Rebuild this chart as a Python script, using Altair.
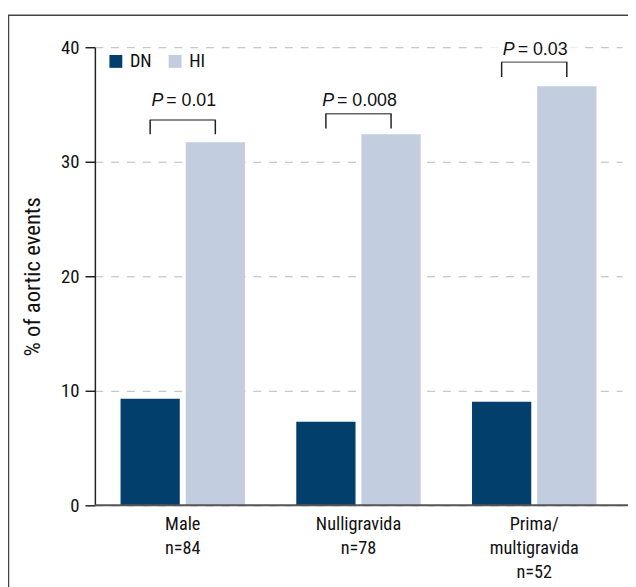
import altair as alt
import pandas as pd

categories = ["Male", "Nulligravida", "Prima/multigravida"]
label_lines = [["Male", "n=84"], ["Nulligravida", "n=78"], ["Prima/", "multigravida", "n=52"]]
groups = ["DN", "HI"]
dn_values = [9.3, 7.3, 9.05]
hi_values = [31.7, 32.4, 36.6]
p_values = ["0.01", "0.008", "0.03"]
p_text_y = [34.9, 34.9, 39.3]
bracket_top = [33.65, 34.2, 38.7]
bracket_bottom = [32.4, 32.9, 37.4]

DN_COLOR = "#033f6d"
HI_COLOR = "#c3cde0"
NARROW = "Liberation Sans Narrow, Nimbus Sans Narrow, Roboto Condensed, Roboto, sans-serif"
REG = "Liberation Sans"

W, H = 540, 464

rows = []
for c, d, h in zip(categories, dn_values, hi_values):
    rows.append({"category": c, "group": "DN", "value": d})
    rows.append({"category": c, "group": "HI", "value": h})
bars_df = pd.DataFrame(rows)

brk_rows = []
for c, t, b in zip(categories, bracket_top, bracket_bottom):
    for g in groups:
        brk_rows.append({"category": c, "group": g, "top": t, "bottom": b})
brk_df = pd.DataFrame(brk_rows)
top_df = pd.DataFrame({"category": categories, "top": bracket_top})

parts = []
for c, lines in zip(categories, label_lines):
    arr = "[" + ",".join("'" + l + "'" for l in lines) + "]"
    parts.append((c, arr))
label_expr = ""
for c, arr in parts[:-1]:
    label_expr += f"datum.value == '{c}' ? {arr} : "
label_expr += parts[-1][1]

x_scale = alt.Scale(domain=categories, paddingInner=0, paddingOuter=0, range=[0, 534])
off_scale = alt.Scale(domain=groups, paddingInner=0.0909, paddingOuter=0.394)

x_enc = alt.X(
    "category:N", sort=categories, scale=x_scale,
    axis=alt.Axis(
        title=None, labelAngle=0, ticks=False, domain=False,
        labelExpr=label_expr, labelFont=NARROW, labelFontSize=18.5,
        labelColor="#111", labelPadding=10, labelLineHeight=24,
    ),
)
y_scale = alt.Scale(domain=[0, 40], nice=False)

bars = alt.Chart(bars_df).mark_bar().encode(
    x=x_enc,
    xOffset=alt.XOffset("group:N", sort=groups, scale=off_scale),
    y=alt.Y(
        "value:Q", scale=y_scale,
        axis=alt.Axis(
            values=[0, 10, 20, 30, 40], grid=True, gridDash=[8, 8], gridColor="#b8b8b8",
            gridWidth=1, domainColor="#222", domainWidth=1.5, tickColor="#222",
            tickSize=10, tickWidth=1.5, labelFont=NARROW, labelFontSize=19,
            labelColor="#111", labelPadding=6, title="% of aortic events",
            titleFont=NARROW, titleFontSize=23, titleFontWeight="normal",
            titleColor="#111", titleAngle=-90, titleX=-63, titleY=232,
            titleAlign="center", titleBaseline="middle",
        ),
    ),
    color=alt.Color(
        "group:N", scale=alt.Scale(domain=groups, range=[DN_COLOR, HI_COLOR]),
        legend=alt.Legend(
            title=None, orient="none", legendX=12, legendY=5, direction="horizontal",
            symbolType="square", symbolSize=170, symbolStrokeWidth=0,
            labelFont=NARROW, labelFontSize=18.5, labelColor="#111",
            columnPadding=14, labelOffset=5,
        ),
    ),
)

vticks = alt.Chart(brk_df).mark_rule(color="#222", strokeWidth=1.5).encode(
    x=alt.X("category:N", sort=categories, scale=x_scale),
    xOffset=alt.XOffset("group:N", sort=groups, scale=off_scale),
    y=alt.Y("top:Q", scale=y_scale),
    y2="bottom:Q",
)
hline = alt.Chart(top_df).mark_tick(color="#222", thickness=1.5, size=67, orient="horizontal").encode(
    x=alt.X("category:N", sort=categories, scale=x_scale),
    y=alt.Y("top:Q", scale=y_scale),
)

mask_df = pd.DataFrame({"category": [categories[2]], "y": [40]})
mask = alt.Chart(mask_df).mark_tick(color="white", thickness=9, size=94, orient="horizontal").encode(
    x=alt.X("category:N", sort=categories, scale=x_scale),
    y=alt.Y("y:Q", scale=y_scale),
)

char_w = {"P": 12.0, "=": 10.5, " ": 5.0, ".": 5.0}
layers = [bars, vticks, hline, mask]
for c, p, ty in zip(categories, p_values, p_text_y):
    rest = "= " + p
    rest_w = sum(char_w.get(ch, 10.0) for ch in rest)
    total = 12.0 + 3 + rest_w
    df = pd.DataFrame({"category": [c], "y": [ty], "P": ["P"], "rest": [rest]})
    ptxt = alt.Chart(df).mark_text(
        font=REG, fontSize=18, fontStyle="italic", align="right", baseline="alphabetic",
        dx=-total / 2 + 13.0, color="#111",
    ).encode(
        x=alt.X("category:N", sort=categories, scale=x_scale),
        y=alt.Y("y:Q", scale=y_scale), text="P:N",
    )
    rtxt = alt.Chart(df).mark_text(
        font=REG, fontSize=18, align="left", baseline="alphabetic",
        dx=-total / 2 + 16.0, color="#111",
    ).encode(
        x=alt.X("category:N", sort=categories, scale=x_scale),
        y=alt.Y("y:Q", scale=y_scale), text="rest:N",
    )
    layers += [ptxt, rtxt]

dummy = pd.DataFrame({"a": [0]})
xaxis_line = alt.Chart(dummy).mark_rule(color="#555", strokeWidth=2).encode(
    x=alt.value(0), x2=alt.value(W), y=alt.value(H)
)
frame = alt.Chart(dummy).mark_rect(filled=False, stroke="#444", strokeWidth=1.5).encode(
    x=alt.value(-87.5), x2=alt.value(W + 100), y=alt.value(-32.5), y2=alt.value(H + 200)
)
layers += [xaxis_line, frame]

chart = alt.layer(*layers).properties(
    width=W, height=H,
    autosize=alt.AutoSizeParams(type="none"),
    padding={"left": 88, "top": 36, "right": 0, "bottom": 79},
    background="white",
).configure_view(strokeWidth=0)

chart.save("out.html", embed_options={"renderer": "svg", "actions": False})
